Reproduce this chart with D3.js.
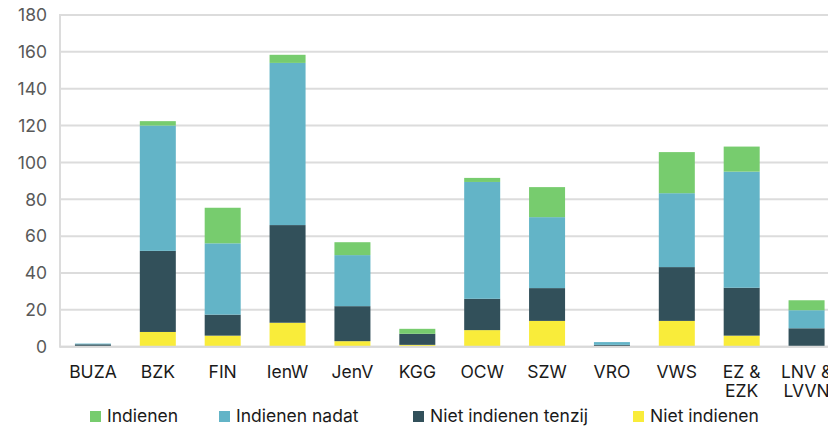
<!DOCTYPE html>
<html>
<head>
<meta charset="utf-8">
<script src="https://d3js.org/d3.v7.min.js"></script>
<style>
  body { margin: 0; background: #fff; }
  svg { display: block; font-family: Inter, "Noto Sans", sans-serif; }
</style>
</head>
<body>
<div id="chart"></div>
<script>
// categories and series
const categories = ["BUZA", "BZK", "FIN", "IenW", "JenV", "KGG", "OCW", "SZW", "VRO", "VWS", "EZ &\nEZK", "LNV &\nLVVN"];
const nietIndienen       = [0, 8, 6, 13, 3, 1, 9, 14, 0, 14, 6, 0];
const nietIndienenTenzij = [1.3, 44, 11.4, 53, 19, 6, 17, 17.8, 1, 29.2, 26, 10];
const indienenNadat      = [0.4, 68, 38.7, 88, 27.7, 0, 63.4, 38.5, 1.5, 40.1, 63, 9.8];
const indienen           = [0, 2.4, 19.3, 4.4, 7, 2.7, 2.2, 16.3, 0, 22.3, 13.6, 5.4];
const yTicks = [0, 20, 40, 60, 80, 100, 120, 140, 160, 180];

const seriesNames = ["Niet indienen", "Niet indienen tenzij", "Indienen nadat", "Indienen"];
const colors = {
  "Niet indienen": "#f9ec3a",
  "Niet indienen tenzij": "#32505a",
  "Indienen nadat": "#63b4c7",
  "Indienen": "#77cc6e"
};

const rows = categories.map((c, i) => ({
  cat: c,
  "Niet indienen": nietIndienen[i],
  "Niet indienen tenzij": nietIndienenTenzij[i],
  "Indienen nadat": indienenNadat[i],
  "Indienen": indienen[i]
}));

const width = 828, height = 426;
const svg = d3.select("#chart").append("svg")
  .attr("width", width).attr("height", height);

const x = d3.scaleBand().domain(categories).range([60.5, 839])
  .paddingInner(0.445).paddingOuter(0.2225);
const y = d3.scaleLinear().domain([0, 180]).range([346.7, 15]);

// gridlines
svg.append("g").selectAll("line").data(yTicks).join("line")
  .attr("x1", 60).attr("x2", width)
  .attr("y1", d => y(d)).attr("y2", d => y(d))
  .attr("stroke", "#dcdcdc").attr("stroke-width", 2);

// left axis line
svg.append("line").attr("x1", 60).attr("x2", 60)
  .attr("y1", y(180) - 1).attr("y2", y(0) + 1)
  .attr("stroke", "#dcdcdc").attr("stroke-width", 2);

// y labels
svg.append("g").selectAll("text").data(yTicks).join("text")
  .attr("x", 47).attr("y", d => y(d))
  .attr("dy", "0.36em")
  .attr("text-anchor", "end")
  .attr("fill", "#595959")
  .attr("font-size", 17.5)
  .text(d => d);

// stacked bars
const stack = d3.stack().keys(seriesNames)(rows);
svg.append("g").selectAll("g").data(stack).join("g")
  .attr("fill", d => colors[d.key])
  .selectAll("rect").data(d => d).join("rect")
  .attr("x", d => x(d.data.cat))
  .attr("width", x.bandwidth())
  .attr("y", d => y(d[1]))
  .attr("height", d => y(d[0]) - y(d[1]));

// baseline over bars
svg.append("line").attr("x1", 60).attr("x2", width)
  .attr("y1", y(0)).attr("y2", y(0))
  .attr("stroke", "#d9d9d9").attr("stroke-width", 2);

// category labels
const catG = svg.append("g").selectAll("text").data(categories).join("text")
  .attr("x", d => x(d) + x.bandwidth() / 2)
  .attr("y", 377.5)
  .attr("text-anchor", "middle")
  .attr("fill", "#1a1a1a")
  .attr("font-size", 17.5);
catG.selectAll("tspan").data(d => d.split("\n")).join("tspan")
  .attr("x", function() { return d3.select(this.parentNode).attr("x"); })
  .attr("dy", (d, i) => i === 0 ? 0 : 19)
  .text(d => d);

// legend
const legendItems = ["Indienen", "Indienen nadat", "Niet indienen tenzij", "Niet indienen"];
const legendX = [90, 219, 413, 633];
const lg = svg.append("g").selectAll("g").data(legendItems).join("g")
  .attr("transform", (d, i) => `translate(${legendX[i]},410)`);
lg.append("rect").attr("width", 11).attr("height", 11).attr("y", 1)
  .attr("fill", d => colors[d]);
lg.append("text").attr("x", 17).attr("y", 11.7)
  .attr("font-size", 17.5).attr("fill", "#1a1a1a")
  .text(d => d);
</script>
</body>
</html>
